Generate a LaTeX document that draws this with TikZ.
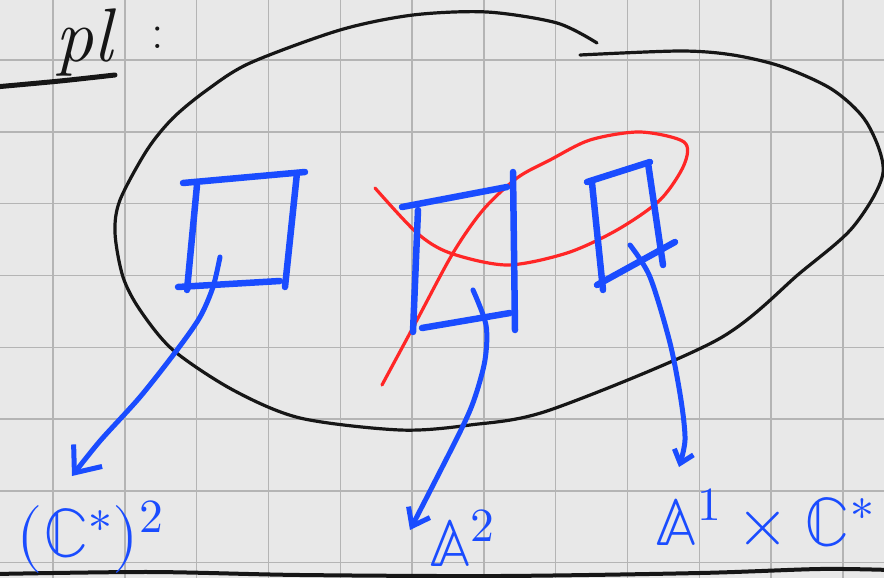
\documentclass[tikz,border=0pt]{standalone}
\usepackage{fontspec}
\usepackage{unicode-math}
\usetikzlibrary{arrows.meta}
\definecolor{paper}{RGB}{232,232,232}
\definecolor{gridgray}{RGB}{180,180,180}
\definecolor{inkblue}{RGB}{26,76,255}
\definecolor{inkred}{RGB}{255,38,38}
\definecolor{inkblack}{RGB}{22,22,22}

\begin{document}
\begin{tikzpicture}[x=1pt, y=-1pt,
    bluestroke/.style={inkblue, line width=6.5pt, line cap=round},
    inkarrow/.style={inkblue, line width=5pt, line cap=round, line join=round},
    mathlabel/.style={inkblue, inner sep=0pt, font=\fontsize{68}{78}\selectfont}]
    \useasboundingbox (0,0) rectangle (884,578);
    \clip (0,0) rectangle (884,578);
    \fill[paper] (0,0) rectangle (884,578);
    % squared paper
    \foreach \i in {0,...,11}
      \draw[gridgray, line width=1.4pt] ({53+71.8*\i},0) -- ({53+71.8*\i},578);
    \foreach \j in {0,...,7}
      \draw[gridgray, line width=1.4pt] (0,{60+71.8*\j}) -- (884,{60+71.8*\j});

    % heading
    \node[anchor=base east, inner sep=0pt, font=\itshape\fontsize{76}{80}\selectfont, text=inkblack] (word) at (113,62) {pl};
    \node[inner sep=0pt, font=\fontsize{50}{60}\selectfont, text=inkblack] (colon) at (158,38) {:};
    \draw[inkblack, line width=5pt, line cap=round] plot[smooth] coordinates {(-5,87) (60,81) (115,75)};
    \draw[inkblack, line width=4pt] plot[smooth] coordinates {(-5,574) (150,572) (300,575) (500,576) (700,573) (820,569) (890,570)};

    % the big set
    \draw[inkblack, line width=3.2pt, line cap=round] plot[smooth] coordinates {
      (597,43) (557,23) (487,12) (413,15) (340,30) (250,63) (207,90)
      (173,118) (147,150) (120,200) (115,233) (123,277) (140,310) (173,350)
      (233,390) (300,418) (400,430) (470,425) (550,410) (717,340)
      (800,273) (853,227) (883,173) (867,123) (833,90) (783,67) (733,55)
      (680,51) (580,55)};

    % red curve
    \draw[inkred, line width=3.2pt, line cap=round] plot[smooth] coordinates {
      (375,188) (417,233) (450,253) (507,265) (567,253) (617,230) (660,200) (684,165)
      (684,142) (640,132) (590,140) (550,160) (517,178) (483,210)
      (453,253) (417,320) (382,385)};

    % first square
    \draw[bluestroke] (183,183) -- (305,172);
    \draw[bluestroke] (197,185) -- (187,290);
    \draw[bluestroke] (297,173) -- (285,287);
    \draw[bluestroke] (178,287) -- (280,281);
    % second square
    \draw[bluestroke] (402,207) -- (507,187);
    \draw[bluestroke] (513,172) -- (515,330);
    \draw[bluestroke] (418,210) -- (413,332);
    \draw[bluestroke] (422,328) -- (510,313);
    % third square
    \draw[bluestroke] (587,182) -- (650,162);
    \draw[bluestroke] (592,183) -- (603,290);
    \draw[bluestroke] (648,163) -- (663,265);
    \draw[bluestroke] (597,285) -- (675,242);

    % results
    \node[mathlabel] (torus) at (90,537) {$(\mathbb{C}^*)^2$};
    \node[mathlabel] (plane) at (462,538) {$\mathbb{A}^2$};
    \node[mathlabel] (cyl) at (765,518) {$\mathbb{A}^1\times\mathbb{C}^*$};

    \coordinate (sqone) at (220,257);
    \coordinate (sqtwo) at (473,290);
    \coordinate (sqthree) at (630,245);
    \coordinate (tipone) at (72,476);
    \coordinate (tiptwo) at (410,530);
    \coordinate (tipthree) at (679,467);

    \draw[inkarrow, -{Straight Barb[length=22pt, width=36pt]}] plot[smooth] coordinates {
      (sqone) (213,287) (200,317) (177,350) (140,397) (100,441) (tipone)};
    \draw[inkarrow, -{Straight Barb[length=16pt, width=24pt]}] plot[smooth] coordinates {
      (sqtwo) (486,325) (485,360) (474,400) (458,436) (tiptwo)};
    \draw[inkarrow, -{Straight Barb[length=12pt, width=20pt]}] plot[smooth] coordinates {
      (sqthree) (650,277) (670,343) (681,400) (685,440) (tipthree)};
\end{tikzpicture}
\end{document}
